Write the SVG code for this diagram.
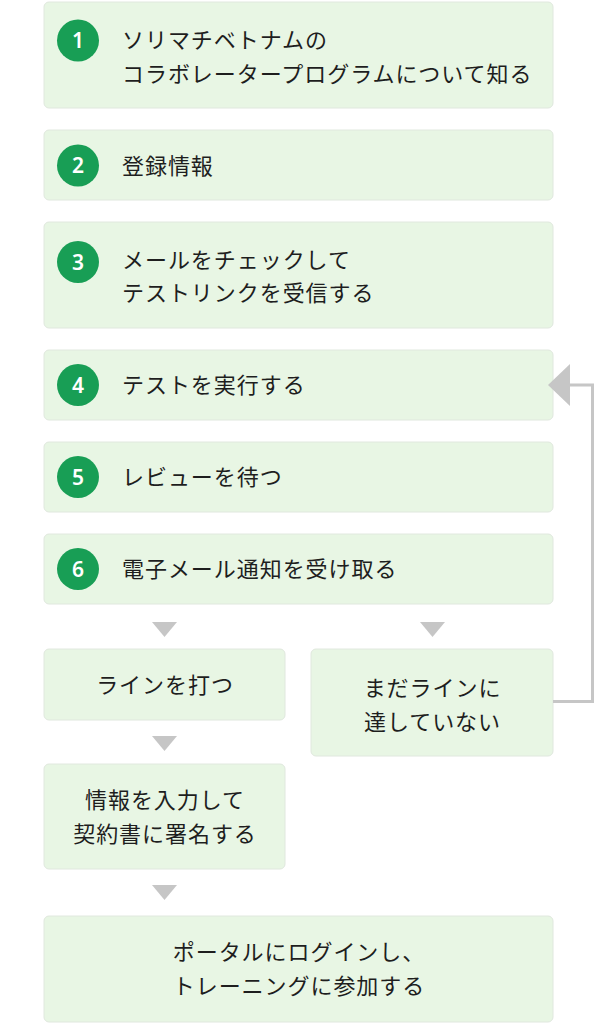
<svg xmlns="http://www.w3.org/2000/svg" width="596" height="1024" viewBox="0 0 596 1024">
<style>
.box{fill:#e8f6e4;stroke:#e0e8de;stroke-width:1}
.t{font-family:"Noto Sans CJK JP","Noto Sans",sans-serif;font-size:22px;font-weight:400;fill:#1e1e1e;letter-spacing:0.95px}
.c{text-anchor:middle}
.num{fill:#189e55}
.n{font-family:"Noto Sans","Noto Sans CJK JP",sans-serif;font-size:21px;font-weight:600;fill:#fff;text-anchor:middle}
.tri{fill:#c6c6c6}
.line{fill:none;stroke:#c6c6c6;stroke-width:3}
</style>
<rect width="596" height="1024" fill="#fff"/>
<g id="step1">
<rect class="box" x="44" y="2" width="509" height="106" rx="5"/>
<circle class="num" cx="78" cy="40.5" r="21"/>
<text class="n" x="78" y="48">1</text>
<text class="t" x="122" y="48">ソリマチベトナムの</text>
<text class="t" x="122" y="82">コラボレータープログラムについて知る</text>
</g>
<g id="step2">
<rect class="box" x="44" y="130" width="509" height="70" rx="5"/>
<circle class="num" cx="78" cy="165.5" r="21"/>
<text class="n" x="78" y="173">2</text>
<text class="t" x="122" y="173.5">登録情報</text>
</g>
<g id="step3">
<rect class="box" x="44" y="222" width="509" height="106" rx="5"/>
<circle class="num" cx="78" cy="262" r="21"/>
<text class="n" x="78" y="269.5">3</text>
<text class="t" x="122" y="268">メールをチェックして</text>
<text class="t" x="122" y="301">テストリンクを受信する</text>
</g>
<g id="step4">
<rect class="box" x="44" y="350" width="509" height="70" rx="5"/>
<circle class="num" cx="78" cy="385" r="21"/>
<text class="n" x="78" y="392.5">4</text>
<text class="t" x="122" y="393">テストを実行する</text>
</g>
<g id="step5">
<rect class="box" x="44" y="442" width="509" height="70" rx="5"/>
<circle class="num" cx="78" cy="477" r="21"/>
<text class="n" x="78" y="484.5">5</text>
<text class="t" x="122" y="485">レビューを待つ</text>
</g>
<g id="step6">
<rect class="box" x="44" y="534" width="509" height="70" rx="5"/>
<circle class="num" cx="78" cy="569" r="21"/>
<text class="n" x="78" y="576.5">6</text>
<text class="t" x="122" y="577">電子メール通知を受け取る</text>
</g>
<g id="pass">
<rect class="box" x="44" y="649" width="241" height="71" rx="5"/>
<text class="t c" x="165" y="692.5">ラインを打つ</text>
</g>
<g id="fail">
<rect class="box" x="311" y="649" width="242" height="107" rx="5"/>
<text class="t c" x="432.5" y="696">まだラインに</text>
<text class="t c" x="432.5" y="730">達していない</text>
</g>
<g id="sign">
<rect class="box" x="44" y="764" width="241" height="105" rx="5"/>
<text class="t c" x="165" y="808">情報を入力して</text>
<text class="t c" x="165" y="842">契約書に署名する</text>
</g>
<g id="training">
<rect class="box" x="44" y="916" width="509" height="106" rx="5"/>
<text class="t c" x="299" y="960">ポータルにログインし、</text>
<text class="t c" x="299" y="994">トレーニングに参加する</text>
</g>
<g id="connectors">
<polygon class="tri" points="152,622 177,622 164.5,637"/>
<polygon class="tri" points="420,622 445,622 432.5,637"/>
<polygon class="tri" points="152,736 177,736 164.5,751"/>
<polygon class="tri" points="152,885 177,885 164.5,900"/>
<path class="line" d="M553,701.5 H592.5 V385 H569"/>
<polygon class="tri" points="548,385 570,364 570,406"/>
</g>
</svg>
